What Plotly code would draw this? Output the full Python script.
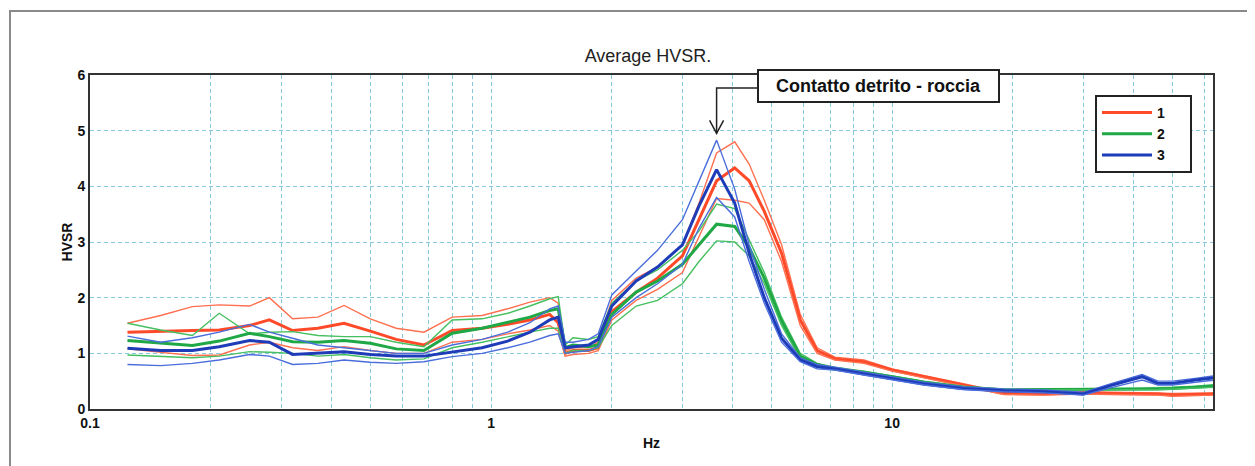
import math
import plotly.graph_objects as go

# ---------------- data ----------------
freq = [0.124, 0.15, 0.18, 0.21, 0.25, 0.28, 0.32, 0.37, 0.43, 0.5, 0.58, 0.68,
        0.8, 0.95, 1.1, 1.25, 1.4, 1.47, 1.53, 1.6, 1.75, 1.85, 2.0, 2.3, 2.6,
        3.0, 3.3, 3.65, 4.05, 4.4, 4.8, 5.3, 5.9, 6.5, 7.2, 8.5, 10, 12, 15, 19,
        24, 30, 35, 42, 46, 50, 57, 64]

red_upper = [1.54, 1.68, 1.84, 1.87, 1.85, 2.0, 1.62, 1.65, 1.86, 1.62, 1.45, 1.38,
             1.65, 1.68, 1.8, 1.92, 2.0, 1.9, 1.05, 1.1, 1.1, 1.2, 1.95, 2.35, 2.55,
             2.95, 3.7, 4.6, 4.8, 4.4, 3.75, 2.95, 1.7, 1.1, 0.93, 0.88, 0.72, 0.6, 0.45, 0.3,
             0.29, 0.31, 0.3, 0.3, 0.29, 0.28, 0.29, 0.29]
red_mean = [1.38, 1.4, 1.41, 1.42, 1.5, 1.6, 1.41, 1.45, 1.54, 1.4, 1.25, 1.15,
            1.41, 1.45, 1.52, 1.6, 1.7, 1.55, 1.0, 1.05, 1.05, 1.1, 1.75, 2.1, 2.35,
            2.75, 3.4, 4.1, 4.33, 4.1, 3.55, 2.8, 1.6, 1.05, 0.9, 0.85, 0.7, 0.58, 0.43, 0.28,
            0.27, 0.29, 0.28, 0.28, 0.27, 0.25, 0.26, 0.27]
red_lower = [1.08, 1.02, 0.96, 0.97, 1.15, 1.2, 1.1, 1.05, 1.12, 1.05, 1.0, 1.0,
             1.2, 1.25, 1.35, 1.42, 1.5, 1.4, 0.95, 0.98, 1.0, 1.05, 1.6, 1.95, 2.15,
             2.45, 3.1, 3.78, 3.75, 3.7, 3.4, 2.65, 1.5, 1.0, 0.88, 0.82, 0.68, 0.56, 0.41, 0.26,
             0.25, 0.27, 0.26, 0.26, 0.25, 0.23, 0.24, 0.25]

green_upper = [1.54, 1.42, 1.32, 1.72, 1.35, 1.38, 1.39, 1.32, 1.3, 1.3, 1.2, 1.12,
               1.6, 1.62, 1.72, 1.85, 1.98, 2.02, 1.15, 1.28, 1.25, 1.3, 1.9, 2.3, 2.5,
               2.85, 3.2, 3.68, 3.6, 3.05, 2.45, 1.65, 1.0, 0.82, 0.75, 0.68, 0.6, 0.5, 0.41, 0.36,
               0.36, 0.36, 0.37, 0.38, 0.38, 0.39, 0.41, 0.44]
green_mean = [1.23, 1.18, 1.14, 1.22, 1.36, 1.3, 1.21, 1.2, 1.23, 1.18, 1.08, 1.05,
              1.36, 1.45, 1.55, 1.65, 1.77, 1.8, 1.1, 1.15, 1.12, 1.15, 1.7, 2.1, 2.3,
              2.6, 2.95, 3.32, 3.28, 2.9, 2.35, 1.58, 0.95, 0.8, 0.72, 0.66, 0.58, 0.48, 0.39, 0.34,
              0.35, 0.35, 0.36, 0.36, 0.36, 0.37, 0.39, 0.41]
green_lower = [0.97, 0.94, 0.92, 0.95, 1.03, 1.02, 1.0, 0.95, 0.98, 0.92, 0.88, 0.9,
               1.1, 1.2, 1.3, 1.38, 1.45, 1.45, 1.0, 1.05, 1.05, 1.1, 1.5, 1.85, 1.95,
               2.25, 2.65, 3.02, 3.0, 2.75, 2.25, 1.5, 0.9, 0.77, 0.7, 0.64, 0.56, 0.47, 0.38, 0.33,
               0.34, 0.34, 0.35, 0.35, 0.35, 0.36, 0.37, 0.39]

blue_upper = [1.31, 1.2, 1.28, 1.38, 1.52, 1.38, 1.27, 1.15, 1.1, 1.05, 1.0, 1.0,
              1.15, 1.25, 1.38, 1.55, 1.8, 1.85, 1.2, 1.2, 1.25, 1.35, 2.05, 2.48, 2.85,
              3.4, 4.1, 4.83, 3.95, 2.95, 2.15, 1.35, 0.92, 0.8, 0.75, 0.66, 0.57, 0.48, 0.4, 0.36,
              0.34, 0.3, 0.45, 0.62, 0.5, 0.5, 0.55, 0.6]
blue_mean = [1.09, 1.05, 1.05, 1.12, 1.23, 1.2, 0.98, 1.0, 1.03, 0.98, 0.95, 0.95,
             1.02, 1.1, 1.22, 1.38, 1.6, 1.65, 1.1, 1.12, 1.15, 1.25, 1.85, 2.3, 2.55,
             2.95, 3.65, 4.3, 3.7, 2.8, 2.0, 1.27, 0.88, 0.76, 0.72, 0.63, 0.54, 0.45, 0.37, 0.33,
             0.31, 0.27, 0.42, 0.58, 0.46, 0.46, 0.52, 0.56]
blue_lower = [0.8, 0.78, 0.82, 0.88, 0.98, 0.95, 0.8, 0.82, 0.88, 0.84, 0.82, 0.85,
              0.94, 1.0, 1.1, 1.2, 1.32, 1.35, 1.0, 1.02, 1.05, 1.12, 1.65, 2.0, 2.25,
              2.6, 3.25, 3.8, 3.45, 2.65, 1.9, 1.2, 0.85, 0.72, 0.7, 0.61, 0.52, 0.43, 0.35, 0.31,
              0.29, 0.25, 0.38, 0.52, 0.43, 0.43, 0.48, 0.52]

series_names = ["1", "2", "3"]
decade_ticks = [0.1, 1, 10]
decade_labels = ["0.1", "1", "10"]
y_ticks = [0, 1, 2, 3, 4, 5, 6]
title_text = "Average HVSR."
note_text = "Contatto detrito - roccia"

# ---------------- styling ----------------
groups = [
    (series_names[0], [red_upper, red_mean, red_lower], "#ff4a2a", "#ff7050"),
    (series_names[1], [green_upper, green_mean, green_lower], "#1fa845", "#45bf5f"),
    (series_names[2], [blue_upper, blue_mean, blue_lower], "#1f3cb8", "#4a6ddc"),
]

X_RANGE = [-1, 1.8]
Y_RANGE = [0, 6]
FONT = "Liberation Sans, Arial, sans-serif"

W, H = 1255, 466
OFF = 8                       # page body offset of the figure
SL, SR, ST, SB = 90, 1213, 75, 409   # plot area on screen
ML, MT = SL - OFF, ST - OFF
MR, MB = W + OFF - SR, H + OFF - SB
PW, PH = SR - SL, SB - ST

LEG_PAD = "\u00a0" * 5

fig = go.Figure()
for name, curves, c_thick, c_thin in groups:
    for k, vals in enumerate(curves):
        is_mean = (k == 1)
        fig.add_trace(go.Scatter(
            x=freq, y=vals, mode="lines", name=name + LEG_PAD,
            line=dict(color=c_thick if is_mean else c_thin,
                      width=3 if is_mean else 1.4),
            showlegend=is_mean, legendgroup=name,
        ))

# grid values on the log axis: 1..9 x each decade
grid_vals = []
grid_text = []
for d, lab in zip(decade_ticks, decade_labels):
    for m in range(1, 10):
        v = d * m
        if math.log10(v) <= X_RANGE[1] + 1e-9:
            grid_vals.append(v)
            grid_text.append(lab if m == 1 else "")

axis_common = dict(showline=True, linecolor="#333333", linewidth=2, mirror=True,
                   gridcolor="#86c9de", griddash="4px,3px", gridwidth=1.2,
                   zeroline=False, ticks="", automargin=False,
                   tickfont=dict(family=FONT, size=14, color="#111", weight="bold"))

fig.update_xaxes(type="log", range=X_RANGE, tickmode="array",
                 tickvals=grid_vals, ticktext=grid_text,
                 title=dict(text="Hz", font=dict(family=FONT, size=14, color="#111", weight="bold"),
                            standoff=8),
                 **axis_common)
fig.update_yaxes(range=Y_RANGE, tickmode="array", tickvals=y_ticks,
                 title=dict(text="HVSR", font=dict(family=FONT, size=14, color="#111", weight="bold"),
                            standoff=2),
                 **axis_common)

def xp(f):
    return (math.log10(f) - X_RANGE[0]) / (X_RANGE[1] - X_RANGE[0])

def yp(v):
    return (v - Y_RANGE[0]) / (Y_RANGE[1] - Y_RANGE[0])

def px2x(px):
    return (px - SL) / PW

def py2y(py):
    return (SB - py) / PH

# peak pointed by the arrow: maximum of series 3 upper curve
i_pk = max(range(len(blue_upper)), key=lambda i: blue_upper[i])
tip_x = xp(freq[i_pk])
tip_y = yp(blue_upper[i_pk] + 0.12)
box_left = px2x(757)
line_y = py2y(88)
hx, hy = 7 / PW, 13 / PH

shapes = [
    dict(type="rect", xref="paper", yref="paper",
         x0=px2x(10), x1=px2x(W + 30), y0=py2y(H + 30), y1=py2y(11),
         line=dict(color="#8a8a8a", width=2), layer="below"),
    dict(type="path", xref="paper", yref="paper",
         path=f"M {box_left},{line_y} L {tip_x},{line_y} L {tip_x},{tip_y}",
         line=dict(color="#222", width=1.5)),
    dict(type="path", xref="paper", yref="paper",
         path=f"M {tip_x - hx},{tip_y + hy} L {tip_x},{tip_y} L {tip_x + hx},{tip_y + hy}",
         line=dict(color="#222", width=1.5)),
]

annotations = [
    dict(xref="paper", yref="paper", x=px2x(878.5), y=py2y(86),
         text=note_text, showarrow=False, xanchor="center", yanchor="middle",
         font=dict(family=FONT, size=18, color="#111", weight="bold"),
         bgcolor="white", bordercolor="#222", borderwidth=2, borderpad=3,
         width=233, height=24),
]

fig.update_layout(
    width=W, height=H,
    margin=dict(l=ML, r=MR, t=MT, b=MB, autoexpand=False),
    paper_bgcolor="white", plot_bgcolor="white",
    title=dict(text=title_text, x=(648 - OFF) / W, xanchor="center",
               y=1 - (56 - OFF) / H, yanchor="middle",
               font=dict(family=FONT, size=18, color="#222")),
    legend=dict(x=px2x(1095), y=py2y(95), xanchor="left", yanchor="top",
                bgcolor="white", bordercolor="#222", borderwidth=2,
                font=dict(family=FONT, size=14, color="#111", weight="bold"),
                itemwidth=50, tracegroupgap=0),
    shapes=shapes,
    annotations=annotations,
)

fig.write_html("out.html")
